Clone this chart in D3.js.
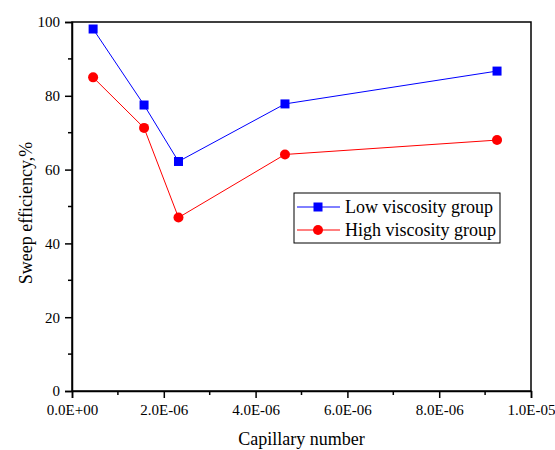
<!DOCTYPE html>
<html>
<head>
<meta charset="utf-8">
<script src="https://cdn.jsdelivr.net/npm/d3@7/dist/d3.min.js"></script>
<style>
  body { margin: 0; background: #fff; }
</style>
</head>
<body>
<svg width="555" height="450"></svg>
<script>
// data
const capillary = [0.46e-6, 1.57e-6, 2.32e-6, 4.64e-6, 9.26e-6];
const lowVisc = [98.1, 77.5, 62.2, 77.8, 86.7];
const highVisc = [85.0, 71.3, 47.0, 64.1, 68.0];
const xTicks = [0, 2e-6, 4e-6, 6e-6, 8e-6, 1e-5];
const xTickLabels = ['0.0E+00', '2.0E-06', '4.0E-06', '6.0E-06', '8.0E-06', '1.0E-05'];
const yTicks = [0, 20, 40, 60, 80, 100];
const seriesNames = ['Low viscosity group', 'High viscosity group'];

const serif = '"Liberation Serif", "Times New Roman", serif';

const svg = d3.select('svg');
const margin = { top: 22, right: 24, bottom: 59, left: 72 };
const width = +svg.attr('width');
const height = +svg.attr('height');
const innerWidth = width - margin.left - margin.right;
const innerHeight = height - margin.top - margin.bottom;

const g = svg.append('g')
  .attr('transform', `translate(${margin.left},${margin.top})`);

const x = d3.scaleLinear().domain([0, 1e-5]).range([0, innerWidth]);
const y = d3.scaleLinear().domain([0, 100]).range([innerHeight, 0]);

// frame
g.append('rect')
  .attr('width', innerWidth)
  .attr('height', innerHeight)
  .attr('fill', 'none')
  .attr('stroke', '#000')
  .attr('stroke-width', 1.5);

// minor ticks
const xMinor = d3.range(1e-6, 1e-5, 2e-6);
const yMinor = d3.range(10, 100, 20);
g.selectAll('.xminor')
  .data(xMinor).enter()
  .append('line')
  .attr('x1', d => x(d)).attr('x2', d => x(d))
  .attr('y1', innerHeight).attr('y2', innerHeight + 4)
  .attr('stroke', '#000').attr('stroke-width', 1.5);
g.selectAll('.yminor')
  .data(yMinor).enter()
  .append('line')
  .attr('y1', d => y(d)).attr('y2', d => y(d))
  .attr('x1', 0).attr('x2', -4)
  .attr('stroke', '#000').attr('stroke-width', 1.5);

// axes
const xAxis = g.append('g')
  .attr('transform', `translate(0,${innerHeight})`)
  .call(d3.axisBottom(x).tickValues(xTicks).tickSize(7).tickPadding(6)
    .tickFormat((d, i) => xTickLabels[i]));
const yAxis = g.append('g')
  .call(d3.axisLeft(y).tickValues(yTicks).tickSize(7).tickPadding(5));

[xAxis, yAxis].forEach(a => {
  a.attr('font-family', null).attr('font-size', null);
  a.select('.domain').attr('stroke-width', 1.5);
  a.selectAll('.tick line').attr('stroke-width', 1.5);
  a.selectAll('.tick text')
    .style('font-family', serif)
    .style('font-size', '15px')
    .attr('fill', '#000');
});

// axis titles
svg.append('text')
  .attr('x', margin.left + innerWidth / 2)
  .attr('y', 445)
  .attr('text-anchor', 'middle')
  .style('font-family', serif)
  .style('font-size', '18px')
  .text('Capillary number');
svg.append('text')
  .attr('transform', 'translate(32,213) rotate(-90)')
  .attr('text-anchor', 'middle')
  .style('font-family', serif)
  .style('font-size', '18px')
  .text('Sweep efficiency,%');

// lines and markers
const line = d3.line()
  .x((d, i) => x(capillary[i]))
  .y(d => y(d));

g.append('path')
  .datum(highVisc)
  .attr('d', line)
  .attr('fill', 'none')
  .attr('stroke', '#ff0000')
  .attr('stroke-width', 1);
g.append('path')
  .datum(lowVisc)
  .attr('d', line)
  .attr('fill', 'none')
  .attr('stroke', '#0000ff')
  .attr('stroke-width', 1);

g.selectAll('.sq')
  .data(lowVisc).enter()
  .append('rect')
  .attr('x', (d, i) => x(capillary[i]) - 4.5)
  .attr('y', d => y(d) - 4.5)
  .attr('width', 9).attr('height', 9)
  .attr('fill', '#0000ff');
g.selectAll('.ci')
  .data(highVisc).enter()
  .append('circle')
  .attr('cx', (d, i) => x(capillary[i]))
  .attr('cy', d => y(d))
  .attr('r', 5)
  .attr('fill', '#ff0000');

// legend
const legend = svg.append('g').attr('transform', 'translate(294,193)');
legend.append('rect')
  .attr('width', 206).attr('height', 50)
  .attr('fill', '#fff').attr('stroke', '#000').attr('stroke-width', 1);
const colors = ['#0000ff', '#ff0000'];
seriesNames.forEach((name, i) => {
  const ly = 14 + i * 23;
  legend.append('line')
    .attr('x1', 3).attr('x2', 46)
    .attr('y1', ly).attr('y2', ly)
    .attr('stroke', colors[i]).attr('stroke-width', 1);
  if (i === 0) {
    legend.append('rect')
      .attr('x', 24 - 4.5).attr('y', ly - 4.5)
      .attr('width', 9).attr('height', 9)
      .attr('fill', colors[i]);
  } else {
    legend.append('circle')
      .attr('cx', 24).attr('cy', ly).attr('r', 5)
      .attr('fill', colors[i]);
  }
  legend.append('text')
    .attr('x', 51).attr('y', ly + 6)
    .style('font-family', serif)
    .style('font-size', '18px')
    .text(name);
});
</script>
</body>
</html>
